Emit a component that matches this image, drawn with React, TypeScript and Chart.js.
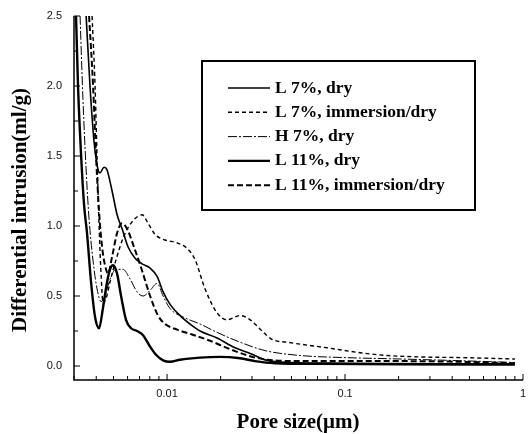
import { useEffect, useRef } from 'react';
import { Chart, registerables } from 'chart.js';

Chart.register(...registerables);

// ---- data (pore size in µm, differential intrusion in ml/g) ----
const seriesLabels = ['L 7%, dry', 'L 7%, immersion/dry', 'H 7%, dry', 'L 11%, dry', 'L 11%, immersion/dry'];

const l7DryX = [0.00351, 0.00369, 0.00389, 0.0041, 0.0042, 0.004426, 0.0046, 0.00491, 0.00524, 0.00559, 0.00604, 0.00661, 0.00724, 0.00803, 0.00879, 0.0095, 0.0104, 0.01183, 0.01346, 0.01532, 0.01909, 0.0241, 0.0293, 0.0365, 0.0491, 0.1, 0.389, 0.9];
const l7DryY = [2.5, 2.0, 1.6, 1.4, 1.38, 1.42, 1.4, 1.25, 1.08, 0.98, 0.85, 0.77, 0.73, 0.7, 0.64, 0.53, 0.44, 0.36, 0.3, 0.25, 0.2, 0.13, 0.09, 0.04, 0.025, 0.02, 0.015, 0.015];

const l7ImmX = [0.00379, 0.00394, 0.00404, 0.00415, 0.00426, 0.00437, 0.00454, 0.00478, 0.00517, 0.00573, 0.00636, 0.006873, 0.00724, 0.00782, 0.00856, 0.00974, 0.01138, 0.01296, 0.01437, 0.01635, 0.01909, 0.02173, 0.02572, 0.0293, 0.03418, 0.03889, 0.04723, 0.0793, 0.1214, 0.1722, 0.2638, 0.4428, 0.6526, 0.9];
const l7ImmY = [2.5, 2.0, 1.5, 1.0, 0.65, 0.45, 0.48, 0.6, 0.76, 0.93, 1.03, 1.07, 1.08, 1.02, 0.94, 0.9, 0.88, 0.84, 0.76, 0.55, 0.38, 0.33, 0.36, 0.33, 0.25, 0.19, 0.17, 0.13, 0.095, 0.075, 0.065, 0.06, 0.055, 0.05];

const h7DryX = [0.003245, 0.00337, 0.00351, 0.003646, 0.00384, 0.004044, 0.00426, 0.00448, 0.00478, 0.005169, 0.00566, 0.0062, 0.00678, 0.00733, 0.00803, 0.00879, 0.0095, 0.0104, 0.0123, 0.01532, 0.01909, 0.02572, 0.03553, 0.0559, 0.1, 0.204, 0.389, 0.9];
const h7DryY = [2.5, 1.9, 1.4, 1.05, 0.75, 0.55, 0.46, 0.5, 0.62, 0.69, 0.69, 0.62, 0.53, 0.5, 0.54, 0.59, 0.5, 0.41, 0.35, 0.3, 0.24, 0.17, 0.11, 0.075, 0.06, 0.05, 0.04, 0.025];

const l11DryX = [0.00308, 0.00316, 0.00329, 0.003418, 0.00355, 0.00374, 0.00394, 0.00415, 0.00437, 0.004602, 0.00478, 0.00497, 0.005238, 0.005516, 0.00588, 0.00628, 0.006783, 0.00733, 0.007924, 0.00867, 0.009495, 0.0104, 0.01183, 0.01532, 0.01985, 0.02572, 0.0312, 0.04044, 0.0724, 0.204, 0.9];
const l11DryY = [2.5, 2.0, 1.5, 1.15, 0.95, 0.6, 0.35, 0.27, 0.42, 0.6, 0.69, 0.72, 0.66, 0.5, 0.33, 0.27, 0.25, 0.22, 0.15, 0.08, 0.04, 0.03, 0.045, 0.06, 0.065, 0.055, 0.035, 0.02, 0.015, 0.012, 0.01];

const l11ImmX = [0.003646, 0.00384, 0.00399, 0.00415, 0.004314, 0.00448, 0.00466, 0.00491, 0.00524, 0.00559, 0.00596, 0.00652, 0.00724, 0.00803, 0.0089, 0.00974, 0.01138, 0.01346, 0.01744, 0.0226, 0.0293, 0.0365, 0.0559, 0.1, 0.204, 0.4428, 0.9];
const l11ImmY = [2.5, 2.0, 1.5, 1.1, 0.85, 0.72, 0.66, 0.78, 0.95, 1.02, 0.98, 0.85, 0.68, 0.5, 0.36, 0.3, 0.26, 0.23, 0.18, 0.12, 0.07, 0.045, 0.035, 0.035, 0.035, 0.03, 0.02];

const xTickValues = [0.01, 0.1, 1];
const xTickLabels = ['0.01', '0.1', '1'];
const yTickValues = [0, 0.5, 1.0, 1.5, 2.0, 2.5];
const yTickLabels = ['0.0', '0.5', '1.0', '1.5', '2.0', '2.5'];

const xTitle = 'Pore size(μm)';
const yTitle = 'Differential intrusion(ml/g)';

const seriesX = [l7DryX, l7ImmX, h7DryX, l11DryX, l11ImmX];
const seriesY = [l7DryY, l7ImmY, h7DryY, l11DryY, l11ImmY];
const seriesWidth = [1.6, 1.4, 1, 2.4, 2];
const seriesDash: number[][] = [[], [4, 3], [9, 2, 2, 2], [], [6, 3]];

const TICK_FONT = '11px "Liberation Sans"';

const decorPlugin = {
  id: 'decor',
  afterDatasetsDraw(chart: any) {
    const { ctx, chartArea: a, scales } = chart;
    const xs = scales.x;
    const ys = scales.y;
    ctx.save();
    ctx.strokeStyle = '#000';
    ctx.fillStyle = '#000';
    ctx.setLineDash([]);
    // axes
    ctx.lineWidth = 1.5;
    ctx.beginPath();
    ctx.moveTo(a.left, a.top);
    ctx.lineTo(a.left, a.bottom);
    ctx.lineTo(a.right, a.bottom);
    ctx.stroke();
    // x ticks (inward)
    ctx.lineWidth = 1;
    for (let e = -3; e <= 0; e++) {
      for (let m = 1; m <= 9; m++) {
        const v = m * Math.pow(10, e);
        if (v < 0.003 - 1e-9 || v > 1 + 1e-9) continue;
        const px = xs.getPixelForValue(v);
        const len = m === 1 ? 6 : 4;
        ctx.beginPath();
        ctx.moveTo(px, a.bottom);
        ctx.lineTo(px, a.bottom - len);
        ctx.stroke();
      }
    }
    // y ticks (inward)
    for (let i = 0; i <= 10; i++) {
      const v = i * 0.25;
      const py = ys.getPixelForValue(v);
      const len = i % 2 === 0 ? 6 : 4;
      ctx.beginPath();
      ctx.moveTo(a.left, py);
      ctx.lineTo(a.left + len, py);
      ctx.stroke();
    }
    // tick labels
    ctx.font = TICK_FONT;
    ctx.fillStyle = '#111';
    ctx.textAlign = 'right';
    ctx.textBaseline = 'middle';
    yTickValues.forEach((v, i) => {
      ctx.fillText(yTickLabels[i], a.left - 12, ys.getPixelForValue(v));
    });
    ctx.textAlign = 'center';
    ctx.textBaseline = 'top';
    xTickValues.forEach((v, i) => {
      ctx.fillText(xTickLabels[i], xs.getPixelForValue(v), a.bottom + 8);
    });
    ctx.fillStyle = '#000';
    // legend box
    const bx = 202, by = 61, bw = 273, bh = 149;
    ctx.lineWidth = 2;
    ctx.strokeRect(bx, by, bw, bh);
    ctx.font = 'bold 17.5px "Liberation Serif"';
    ctx.textBaseline = 'middle';
    ctx.textAlign = 'left';
    chart.data.datasets.forEach((ds: any, i: number) => {
      const yy = 88 + i * 24.3;
      ctx.lineWidth = ds.borderWidth;
      ctx.setLineDash(ds.borderDash || []);
      ctx.beginPath();
      ctx.moveTo(228, yy);
      ctx.lineTo(270, yy);
      ctx.stroke();
      ctx.setLineDash([]);
      ctx.fillText(ds.label, 275, yy);
    });
    // axis titles
    ctx.font = 'bold 21px "Liberation Serif"';
    ctx.textAlign = 'center';
    ctx.textBaseline = 'alphabetic';
    ctx.fillText(xTitle, 298, 428);
    ctx.save();
    ctx.translate(21, 210);
    ctx.rotate(-Math.PI / 2);
    ctx.textBaseline = 'middle';
    ctx.font = 'bold 21px "Liberation Serif"';
    ctx.fillText(yTitle, 0, 0);
    ctx.restore();
    ctx.restore();
  },
};

export default function App() {
  const ref = useRef<HTMLCanvasElement>(null);
  useEffect(() => {
    if (!ref.current) return;
    const datasets = seriesLabels.map((label, i) => ({
      label,
      data: seriesX[i].map((x, j) => ({ x, y: seriesY[i][j] })),
      borderColor: '#000',
      borderWidth: seriesWidth[i],
      borderDash: seriesDash[i],
      pointRadius: 0,
      fill: false,
      cubicInterpolationMode: 'monotone' as const,
    }));
    const chart = new Chart(ref.current, {
      type: 'line',
      data: { datasets },
      options: {
        animation: false,
        responsive: false,
        devicePixelRatio: 1,
        // plot area: left 74, top 16, right 523, bottom 380
        layout: { padding: { top: 16, right: 7, left: 74, bottom: 54 } },
        plugins: { legend: { display: false }, tooltip: { enabled: false } },
        scales: {
          x: {
            type: 'logarithmic',
            display: false,
            min: 0.003,
            max: 1,
          },
          y: {
            type: 'linear',
            display: false,
            min: -0.1,
            max: 2.5,
          },
        },
      },
      plugins: [decorPlugin],
    });
    return () => chart.destroy();
  }, []);
  return (
    <div style={{ position: 'absolute', left: 0, top: 0, width: 530, height: 434, background: '#fff' }}>
      <canvas ref={ref} width={530} height={434} style={{ display: 'block' }} />
    </div>
  );
}
